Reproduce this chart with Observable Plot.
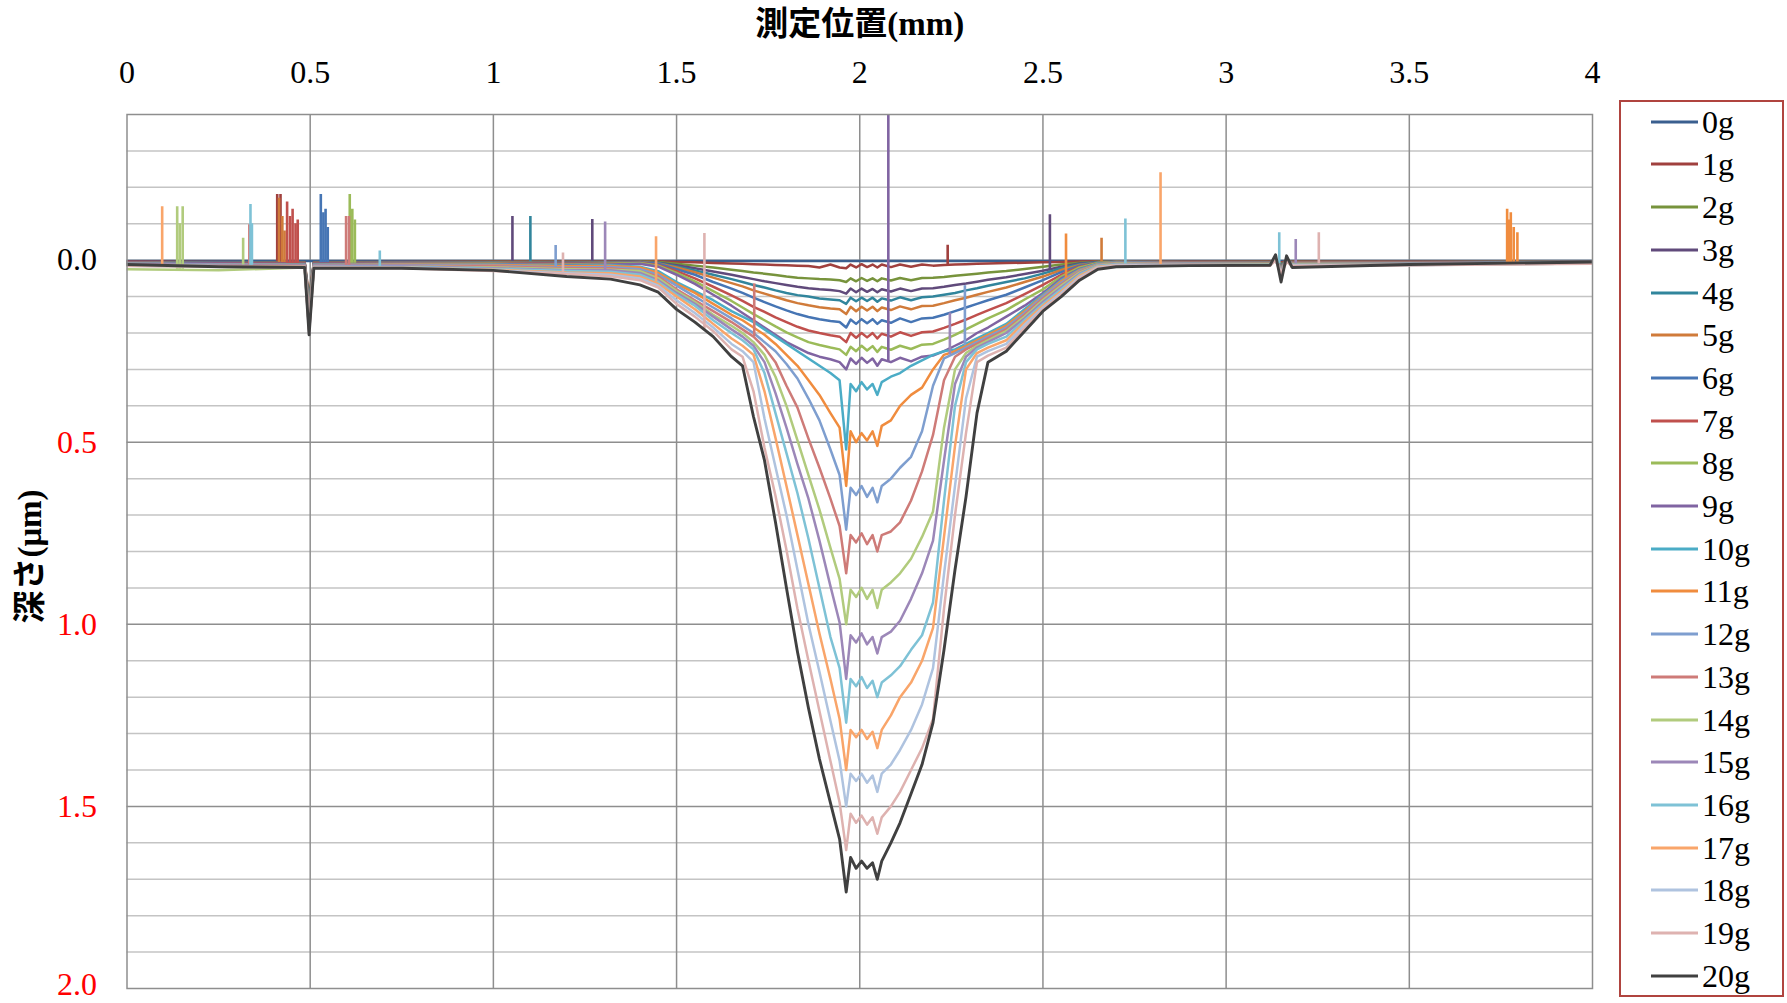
<!DOCTYPE html>
<html><head><meta charset="utf-8">
<script src="https://cdn.jsdelivr.net/npm/d3@7"></script>
<script src="https://cdn.jsdelivr.net/npm/@observablehq/plot@0.6"></script>
<style>
html,body{margin:0;padding:0;background:#fff;}
#wrap{position:relative;width:1787px;height:1003px;overflow:hidden;background:#fff;}
#chart{position:absolute;left:0;top:0;}
#legend{position:absolute;left:1619px;top:100px;width:161px;height:893px;border:2px solid #B0443F;background:#fff;}
.item{position:absolute;left:30px;height:40px;display:flex;align-items:center;font-family:"Liberation Serif","Times New Roman",serif;font-size:32px;color:#000;line-height:40px;white-space:nowrap;}
.item svg{display:block;margin-right:4px;}
</style></head><body><div id="wrap"><div id="chart"></div><div id="legend"></div></div>
<script>
// measuring positions (mm) shared by all series
const positions = [0,0.25,0.485,0.497,0.51,0.75,1.0,1.2,1.32,
 1.40,1.45,1.50,1.55,1.60,1.65,1.68,1.71,1.74,1.77,1.80,1.83,1.86,1.89,1.92,
 1.945,1.963,1.975,1.99,2.005,2.02,2.035,2.048,2.06,
 2.085,2.11,2.14,2.17,2.20,2.23,2.26,2.29,2.32,2.35,
 2.40,2.45,2.50,2.55,2.60,2.65,2.70,
 2.90,3.12,3.135,3.15,3.165,3.18,3.50,4.00];

// depth (µm) of each load
const g0 = [0.002,0.002,0.002,0.002,0.002,0.002,0.002,0.002,0.002,
 0.002,0.002,0.002,0.002,0.002,0.002,0.002,0.002,0.002,0.002,0.002,0.002,0.002,0.002,0.002,
 0.002,0.002,0.002,0.002,0.002,0.002,0.002,0.002,0.002,
 0.002,0.002,0.002,0.002,0.002,0.002,0.002,0.002,0.002,0.002,
 0.002,0.002,0.002,0.002,0.002,0.002,0.002,
 0.002,0.002,0.002,0.002,0.002,0.002,0.002,0.002];
const g1 = [0.004,0.005,0.006,0.10,0.006,0.005,0.004,0.004,0.004,
 0.003,0.003,0.005,0.006,0.008,0.009,0.010,0.011,0.012,0.013,0.014,0.015,0.016,0.020,0.012,
 0.020,0.022,0.012,0.020,0.011,0.019,0.012,0.020,0.012,
 0.019,0.012,0.018,0.012,0.015,0.013,0.012,0.011,0.010,0.009,
 0.008,0.007,0.006,0.005,0.004,0.003,0.003,
 0.004,0.004,0.003,0.006,0.003,0.004,0.004,0.003];
const g2 = [0.006,0.006,0.007,0.11,0.007,0.006,0.005,0.005,0.005,
 0.004,0.005,0.010,0.015,0.020,0.026,0.030,0.034,0.037,0.041,0.045,0.048,0.050,0.052,0.053,
 0.055,0.060,0.050,0.058,0.049,0.057,0.050,0.058,0.050,
 0.056,0.049,0.055,0.049,0.048,0.046,0.043,0.040,0.037,0.034,
 0.030,0.024,0.018,0.012,0.007,0.004,0.004,
 0.005,0.005,0.002,0.010,0.003,0.005,0.005,0.004];
const g3 = [0.005,0.006,0.007,0.12,0.007,0.006,0.006,0.006,0.005,
 0.004,0.007,0.014,0.022,0.031,0.040,0.046,0.052,0.058,0.063,0.068,0.073,0.077,0.080,0.082,
 0.085,0.092,0.078,0.088,0.078,0.087,0.079,0.088,0.080,
 0.086,0.078,0.085,0.078,0.077,0.073,0.068,0.064,0.059,0.054,
 0.047,0.038,0.029,0.018,0.009,0.005,0.004,
 0.005,0.006,0.002,0.012,0.003,0.006,0.005,0.004];
const g4 = [0.006,0.007,0.008,0.12,0.008,0.007,0.006,0.007,0.006,
 0.005,0.008,0.017,0.028,0.040,0.052,0.060,0.068,0.075,0.083,0.090,0.096,0.100,0.105,0.108,
 0.110,0.120,0.103,0.113,0.103,0.112,0.103,0.114,0.105,
 0.111,0.102,0.110,0.102,0.100,0.095,0.090,0.083,0.077,0.070,
 0.060,0.050,0.037,0.022,0.011,0.006,0.005,
 0.006,0.006,0.001,0.014,0.003,0.006,0.006,0.004];
const g5 = [0.006,0.008,0.008,0.13,0.008,0.007,0.007,0.008,0.007,
 0.005,0.009,0.020,0.033,0.048,0.063,0.072,0.083,0.092,0.101,0.110,0.118,0.124,0.129,0.133,
 0.135,0.148,0.128,0.140,0.128,0.138,0.128,0.140,0.130,
 0.137,0.127,0.135,0.126,0.125,0.118,0.110,0.103,0.095,0.087,
 0.075,0.060,0.045,0.027,0.013,0.007,0.005,
 0.006,0.007,0.000,0.016,0.002,0.006,0.006,0.005];
const g6 = [0.007,0.008,0.009,0.13,0.009,0.008,0.008,0.009,0.008,
 0.006,0.010,0.025,0.040,0.060,0.078,0.090,0.103,0.115,0.127,0.138,0.148,0.156,0.162,0.167,
 0.170,0.185,0.163,0.175,0.162,0.173,0.162,0.175,0.165,
 0.172,0.160,0.170,0.160,0.158,0.150,0.140,0.130,0.120,0.110,
 0.095,0.075,0.055,0.033,0.015,0.007,0.005,
 0.007,0.007,0.000,0.018,0.002,0.007,0.007,0.005];
const g7 = [0.008,0.009,0.010,0.14,0.010,0.009,0.009,0.010,0.009,
 0.007,0.013,0.030,0.050,0.073,0.097,0.112,0.128,0.142,0.157,0.170,0.183,0.193,0.200,0.206,
 0.210,0.225,0.200,0.213,0.200,0.212,0.200,0.215,0.202,
 0.210,0.198,0.208,0.198,0.196,0.186,0.175,0.163,0.150,0.138,
 0.118,0.093,0.068,0.040,0.018,0.008,0.005,
 0.007,0.008,0.000,0.020,0.002,0.007,0.007,0.005];
const g8 = [0.012,0.014,0.014,0.14,0.012,0.010,0.010,0.012,0.010,
 0.008,0.015,0.035,0.058,0.085,0.112,0.130,0.148,0.165,0.182,0.198,0.212,0.225,0.233,0.240,
 0.245,0.260,0.238,0.250,0.235,0.248,0.236,0.252,0.238,
 0.246,0.235,0.244,0.232,0.230,0.218,0.205,0.190,0.175,0.160,
 0.137,0.108,0.080,0.045,0.020,0.008,0.005,
 0.008,0.008,0.001,0.020,0.002,0.008,0.008,0.006];
const g9 = [0.008,0.010,0.011,0.15,0.011,0.010,0.011,0.013,0.012,
 0.010,0.018,0.040,0.065,0.095,0.125,0.145,0.165,0.185,0.205,0.225,0.240,0.255,0.265,0.272,
 0.280,0.300,0.270,0.285,0.268,0.282,0.270,0.290,0.272,
 0.280,0.268,0.278,0.265,0.262,0.250,0.235,0.220,0.200,0.185,
 0.155,0.125,0.090,0.050,0.024,0.010,0.006,
 0.008,0.008,0.000,0.022,0.002,0.008,0.008,0.006];
const g10 = [0.009,0.011,0.012,0.15,0.012,0.011,0.012,0.015,0.014,
 0.018,0.030,0.060,0.085,0.110,0.140,0.155,0.170,0.190,0.210,0.230,0.250,0.270,0.290,0.310,
 0.330,0.520,0.340,0.360,0.335,0.355,0.340,0.370,0.335,
 0.320,0.310,0.290,0.275,0.260,0.250,0.245,0.230,0.215,0.200,
 0.175,0.135,0.095,0.055,0.026,0.010,0.007,
 0.009,0.009,0.000,0.024,0.002,0.009,0.009,0.006];
const g11 = [0.010,0.012,0.013,0.16,0.013,0.012,0.013,0.017,0.016,
 0.020,0.035,0.065,0.090,0.120,0.150,0.165,0.185,0.205,0.230,0.260,0.290,0.330,0.370,0.420,
 0.460,0.620,0.470,0.500,0.475,0.495,0.470,0.510,0.455,
 0.440,0.400,0.370,0.350,0.300,0.260,0.250,0.235,0.220,0.205,
 0.180,0.140,0.098,0.058,0.028,0.011,0.008,
 0.010,0.010,0.000,0.025,0.003,0.010,0.010,0.007];
const g12 = [0.010,0.012,0.014,0.17,0.014,0.013,0.015,0.020,0.019,
 0.025,0.040,0.070,0.100,0.130,0.160,0.180,0.200,0.225,0.250,0.285,0.325,0.380,0.440,0.520,
 0.590,0.740,0.625,0.645,0.620,0.650,0.625,0.665,0.620,
 0.600,0.570,0.540,0.470,0.345,0.270,0.255,0.240,0.225,0.210,
 0.185,0.145,0.100,0.062,0.030,0.012,0.009,
 0.010,0.011,0.000,0.026,0.003,0.011,0.010,0.007];
const g13 = [0.012,0.014,0.015,0.17,0.015,0.015,0.017,0.022,0.022,
 0.030,0.045,0.080,0.110,0.140,0.170,0.190,0.210,0.240,0.280,0.345,0.405,0.490,0.570,0.655,
 0.730,0.860,0.755,0.775,0.750,0.780,0.755,0.800,0.755,
 0.745,0.720,0.660,0.580,0.480,0.330,0.265,0.245,0.230,0.215,
 0.190,0.150,0.105,0.066,0.032,0.013,0.010,
 0.011,0.012,0.000,0.028,0.003,0.012,0.011,0.008];
const g14 = [0.025,0.028,0.020,0.19,0.018,0.017,0.020,0.025,0.026,
 0.030,0.050,0.085,0.115,0.150,0.180,0.200,0.225,0.260,0.320,0.400,0.495,0.590,0.685,0.790,
 0.875,1.000,0.905,0.925,0.900,0.930,0.905,0.955,0.905,
 0.885,0.860,0.820,0.760,0.690,0.460,0.300,0.255,0.235,0.220,
 0.195,0.155,0.110,0.070,0.034,0.014,0.010,
 0.012,0.012,0.000,0.030,0.003,0.012,0.012,0.008];
const g15 = [0.012,0.015,0.016,0.18,0.016,0.017,0.022,0.028,0.028,
 0.035,0.055,0.090,0.120,0.155,0.190,0.210,0.235,0.280,0.365,0.460,0.560,0.655,0.770,0.895,
 0.995,1.150,1.030,1.050,1.025,1.055,1.035,1.080,1.035,
 1.020,0.990,0.930,0.860,0.770,0.550,0.340,0.265,0.240,0.225,
 0.200,0.160,0.115,0.075,0.037,0.015,0.011,
 0.012,0.013,0.000,0.030,0.003,0.013,0.012,0.008];
const g16 = [0.013,0.016,0.018,0.19,0.018,0.019,0.024,0.030,0.032,
 0.040,0.060,0.095,0.125,0.165,0.200,0.220,0.245,0.310,0.420,0.530,0.640,0.765,0.900,1.035,
 1.120,1.270,1.150,1.170,1.145,1.175,1.155,1.200,1.160,
 1.140,1.115,1.070,1.030,0.940,0.660,0.400,0.280,0.245,0.230,
 0.210,0.165,0.120,0.080,0.040,0.016,0.012,
 0.013,0.013,0.000,0.032,0.003,0.013,0.013,0.009];
const g17 = [0.014,0.017,0.018,0.19,0.019,0.020,0.026,0.034,0.036,
 0.045,0.065,0.100,0.135,0.175,0.215,0.235,0.260,0.360,0.488,0.620,0.755,0.890,1.025,1.150,
 1.260,1.400,1.290,1.310,1.290,1.315,1.295,1.340,1.290,
 1.250,1.200,1.160,1.100,1.010,0.760,0.510,0.300,0.255,0.240,
 0.220,0.170,0.125,0.085,0.043,0.018,0.013,
 0.013,0.014,0.000,0.034,0.004,0.014,0.013,0.009];
const g18 = [0.015,0.018,0.020,0.20,0.020,0.021,0.028,0.036,0.040,
 0.050,0.070,0.110,0.145,0.185,0.230,0.250,0.280,0.435,0.568,0.700,0.850,1.000,1.130,1.265,
 1.375,1.500,1.410,1.430,1.410,1.435,1.415,1.460,1.410,
 1.385,1.345,1.290,1.220,1.120,0.862,0.620,0.380,0.265,0.250,
 0.230,0.178,0.130,0.090,0.047,0.020,0.014,
 0.014,0.014,0.000,0.036,0.004,0.014,0.014,0.009];
const g19 = [0.016,0.018,0.020,0.20,0.021,0.022,0.030,0.038,0.044,
 0.055,0.075,0.120,0.155,0.195,0.245,0.265,0.360,0.515,0.647,0.796,0.957,1.100,1.238,1.375,
 1.489,1.620,1.520,1.545,1.525,1.550,1.530,1.575,1.530,
 1.500,1.460,1.400,1.340,1.260,0.957,0.700,0.475,0.280,0.262,
 0.240,0.186,0.135,0.095,0.050,0.022,0.015,
 0.015,0.015,0.000,0.038,0.004,0.015,0.014,0.010];
const g20 = [0.012,0.018,0.020,0.205,0.022,0.022,0.028,0.045,0.052,
 0.068,0.088,0.135,0.170,0.210,0.265,0.290,0.430,0.550,0.720,0.900,1.075,1.230,1.370,1.490,
 1.590,1.735,1.640,1.670,1.650,1.670,1.655,1.700,1.650,
 1.600,1.545,1.465,1.385,1.270,1.070,0.850,0.650,0.420,0.280,
 0.250,0.195,0.140,0.100,0.055,0.025,0.018,
 0.015,0.014,-0.015,0.060,-0.012,0.020,0.012,0.005];

// narrow spikes: [series index, position mm, base depth, tip depth]
const spikes = [
 [17,0.096,0.015,-0.147],[14,0.137,0.025,-0.147],[14,0.144,0.025,-0.10],[14,0.152,0.025,-0.147],
 [14,0.317,0.025,-0.06],[13,0.334,0.012,-0.097],[16,0.337,0.014,-0.153],[16,0.341,0.014,-0.10],
 [1,0.410,0.005,-0.18],[1,0.419,0.005,-0.18],[5,0.415,0.008,-0.17],[5,0.424,0.008,-0.12],[5,0.430,0.008,-0.08],
 [7,0.437,0.010,-0.16],[7,0.445,0.010,-0.12],[7,0.452,0.010,-0.14],[7,0.460,0.010,-0.10],[7,0.466,0.010,-0.11],
 [6,0.529,0.009,-0.18],[6,0.536,0.009,-0.13],[6,0.542,0.009,-0.14],[6,0.548,0.009,-0.09],
 [13,0.598,0.015,-0.12],[13,0.606,0.015,-0.12],[8,0.608,0.010,-0.18],[8,0.615,0.010,-0.14],[8,0.622,0.010,-0.11],
 [16,0.690,0.020,-0.025],[3,1.052,0.006,-0.12],[4,1.101,0.007,-0.12],[12,1.170,0.020,-0.04],[19,1.190,0.035,-0.02],
 [3,1.270,0.006,-0.112],[15,1.305,0.028,-0.105],[17,1.444,0.060,-0.064],[19,1.576,0.190,-0.073],
 [13,1.712,0.210,0.065],[9,2.078,0.280,-0.40],[1,2.240,0.013,-0.041],[15,2.246,0.260,0.145],[12,2.287,0.235,0.07],
 [3,2.519,0.030,-0.125],[11,2.563,0.060,-0.072],[5,2.660,0.007,-0.06],[16,2.725,0.015,-0.113],[17,2.821,0.015,-0.24],
 [16,3.145,0.010,-0.075],[15,3.190,0.010,-0.057],[19,3.253,0.010,-0.075],
 [11,3.767,0.010,-0.14],[11,3.772,0.010,-0.11],[11,3.777,0.010,-0.13],[11,3.785,0.010,-0.09],[11,3.795,0.010,-0.075]
];

const seriesNames = ["0g","1g","2g","3g","4g","5g","6g","7g","8g","9g","10g","11g","12g","13g","14g","15g","16g","17g","18g","19g","20g"];
const seriesColors = ["#3A5F8F","#A0403E","#77933C","#604A7B","#31859C","#D07B3A","#4675B4","#C0504D","#9BBB59","#8064A2","#4BACC6","#F08C3E","#7E9ECF","#CE7B78","#B1CB7D","#9C87B8","#7EC2D6","#F9A56A","#AFC3DF","#DEB2B0","#404040"];
const depthSeries = [g0,g1,g2,g3,g4,g5,g6,g7,g8,g9,g10,g11,g12,g13,g14,g15,g16,g17,g18,g19,g20];

const xTickValues = [0,0.5,1,1.5,2,2.5,3,3.5,4];
const xGridValues = [0.5,1,1.5,2,2.5,3,3.5];
const yLabelValues = [0,0.5,1,1.5,2];
const yMajorGrid = [0,0.5,1,1.5];
const yMinorGrid = [-0.3,-0.2,-0.1,0.1,0.2,0.3,0.4,0.6,0.7,0.8,0.9,1.1,1.2,1.3,1.4,1.6,1.7,1.8,1.9];
const xTitle = "測定位置(mm)";
const yTitle = "深さ(μm)";

const serif = '"Liberation Serif","Times New Roman",serif';
const titleFont = '"Liberation Serif","Noto Sans CJK JP",serif';

const marks = [
  Plot.gridY(yMinorGrid, {stroke: "#C4C4C4", strokeOpacity: 1, strokeWidth: 1.5}),
  Plot.gridY(yMajorGrid, {stroke: "#8E8E8E", strokeOpacity: 1, strokeWidth: 1.5}),
  Plot.gridX(xGridValues, {stroke: "#8E8E8E", strokeOpacity: 1, strokeWidth: 1.5})
];
depthSeries.forEach((arr, i) => {
  if (arr.length !== positions.length) console.warn("length mismatch", i, arr.length);
  const rows = positions.map((x, j) => ({x, depth: arr[j]}));
  marks.push(Plot.line(rows, {x: "x", y: "depth", stroke: seriesColors[i], strokeWidth: i === 20 ? 2.9 : 2.5, clip: true}));
  const sp = spikes.filter(s => s[0] === i);
  if (sp.length) marks.push(Plot.ruleX(sp, {x: s => s[1], y1: s => s[2], y2: s => s[3], stroke: seriesColors[i], strokeWidth: 2.6, clip: true}));
});
marks.push(Plot.frame({stroke: "#8E8E8E", strokeWidth: 1.5}));
marks.push(Plot.text(xTickValues, {x: d => d, frameAnchor: "top", dy: -42, text: d => String(d), fontSize: 32, fill: "#000", textAnchor: "middle", lineAnchor: "middle", fontFamily: serif}));
const yLabelStyle = {frameAnchor: "left", dx: -30, text: d => d.toFixed(1), fontSize: 32, textAnchor: "end", lineAnchor: "middle", fill: d => d === 0 ? "#000000" : "#FF0000", fontFamily: serif};
marks.push(Plot.text(yLabelValues.filter(d => d < 2), {y: d => d, ...yLabelStyle}));
marks.push(Plot.text(yLabelValues.filter(d => d >= 2), {y: d => d, ...yLabelStyle, dy: -4}));
marks.push(Plot.text([xTitle], {frameAnchor: "top", dy: -90, text: d => d, fontSize: 33, fontWeight: "bold", fill: "#000", textAnchor: "middle", lineAnchor: "middle", fontFamily: titleFont}));
marks.push(Plot.text([yTitle], {frameAnchor: "left", dx: -97, dy: 5, rotate: -90, text: d => d, fontSize: 33, fontWeight: "bold", fill: "#000", textAnchor: "middle", lineAnchor: "middle", fontFamily: titleFont}));

const chart = Plot.plot({
  width: 1787, height: 1003,
  marginLeft: 126.5, marginRight: 195, marginTop: 114, marginBottom: 15,
  x: {domain: [0, 4], axis: null},
  y: {domain: [-0.4, 2], reverse: true, axis: null},
  style: {background: "transparent", fontFamily: serif},
  marks
});
document.getElementById("chart").appendChild(chart);

// legend
const legend = document.getElementById("legend");
seriesNames.forEach((name, i) => {
  const div = document.createElement("div");
  div.className = "item";
  div.style.top = (19.7 + 42.7 * i - 20) + "px";
  div.innerHTML = `<svg width="47" height="6"><line x1="0" x2="47" y1="3" y2="3" stroke="${seriesColors[i]}" stroke-width="2.8"/></svg><span>${name}</span>`;
  legend.appendChild(div);
});
</script></body></html>
